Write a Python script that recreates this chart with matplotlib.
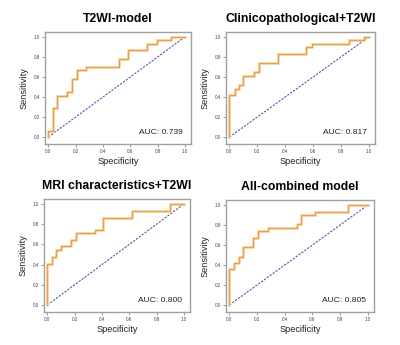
import matplotlib
matplotlib.use("Agg")
import matplotlib.pyplot as plt

plt.rcParams['font.family'] = ['Liberation Sans', 'DejaVu Sans']

titles = ["T2WI-model", "Clinicopathological+T2WI", "MRI characteristics+T2WI", "All-combined model"]
aucs = ["AUC: 0.739", "AUC: 0.817", "AUC: 0.800", "AUC: 0.805"]

# step corner points (x, y) for each ROC curve
x1 = [0, 0, 0.037, 0.037, 0.066, 0.066, 0.135, 0.135, 0.17, 0.17, 0.21, 0.21, 0.276, 0.276, 0.517, 0.517, 0.586, 0.586, 0.72, 0.72, 0.795, 0.795, 0.90, 0.90, 1.0]
y1 = [0, 0.06, 0.06, 0.29, 0.29, 0.41, 0.41, 0.45, 0.45, 0.58, 0.58, 0.67, 0.67, 0.705, 0.705, 0.78, 0.78, 0.87, 0.87, 0.93, 0.93, 0.967, 0.967, 1.0, 1.0]

x2 = [0, 0, 0.037, 0.037, 0.07, 0.07, 0.10, 0.10, 0.176, 0.176, 0.21, 0.21, 0.35, 0.35, 0.55, 0.55, 0.59, 0.59, 0.86, 0.86, 0.966, 0.966, 1.0]
y2 = [0, 0.42, 0.42, 0.48, 0.48, 0.52, 0.52, 0.61, 0.61, 0.65, 0.65, 0.745, 0.745, 0.834, 0.834, 0.90, 0.90, 0.934, 0.934, 0.97, 0.97, 1.0, 1.0]

x3 = [0, 0, 0.037, 0.037, 0.064, 0.064, 0.10, 0.10, 0.172, 0.172, 0.21, 0.21, 0.35, 0.35, 0.41, 0.41, 0.62, 0.62, 0.90, 0.90, 1.0]
y3 = [0, 0.41, 0.41, 0.475, 0.475, 0.545, 0.545, 0.58, 0.58, 0.644, 0.644, 0.71, 0.71, 0.742, 0.742, 0.865, 0.865, 0.93, 0.93, 1.0, 1.0]

x4 = [0, 0, 0.034, 0.034, 0.069, 0.069, 0.10, 0.10, 0.172, 0.172, 0.206, 0.206, 0.278, 0.278, 0.486, 0.486, 0.516, 0.516, 0.617, 0.617, 0.857, 0.857, 1.0]
y4 = [0, 0.356, 0.356, 0.42, 0.42, 0.48, 0.48, 0.58, 0.58, 0.673, 0.673, 0.74, 0.74, 0.775, 0.775, 0.81, 0.81, 0.90, 0.90, 0.934, 0.934, 1.0, 1.0]

xs = [x1, x2, x3, x4]
ys = [y1, y2, y3, y4]

ticks = [0.0, 0.2, 0.4, 0.6, 0.8, 1.0]
tick_labels = ["0.0", "0.2", "0.4", "0.6", "0.8", "1.0"]

W, H = 400, 345
boxes = [(45, 32, 191, 144), (226, 32, 375, 144), (44, 199, 190, 312), (226, 200, 374, 312)]

fig = plt.figure(figsize=(4, 3.45), dpi=100)
for i in range(4):
    l, t, r, b = boxes[i]
    ax = fig.add_axes([l / W, 1 - b / H, (r - l) / W, (b - t) / H])
    ax.plot([0, 1], [0, 1], color="#5a55a8", lw=0.8, ls=(0, (2, 1.2)))
    ax.plot(xs[i], ys[i], color="#FAE0B8", lw=2.0, solid_joinstyle="miter")
    ax.plot(xs[i], ys[i], color="#E9A04A", lw=1.0, solid_joinstyle="miter")
    ax.set_xlim(-0.025, 1.045)
    ax.set_ylim(-0.07, 1.05)
    ax.set_xticks(ticks)
    ax.set_xticklabels(tick_labels)
    ax.set_yticks(ticks)
    ax.set_yticklabels(tick_labels)
    ax.tick_params(labelsize=3.3, length=2, width=0.6, color="#888888", labelcolor="#444444", pad=1.5)
    for s in ax.spines.values():
        s.set_color("#a0a0a0")
        s.set_linewidth(1.0)
    ax.set_xlabel("Specificity", fontsize=6.6, color="#222222", labelpad=2)
    ax.set_ylabel("Sensitivity", fontsize=6.6, color="#222222", labelpad=4)
    ax.set_title(titles[i], fontsize=8.8, fontweight="bold", pad=7)
    ax.text(0.985, 0.005, aucs[i], fontsize=6.1, ha="right", va="bottom", color="#222222")

fig.savefig("out.png", dpi=100)
